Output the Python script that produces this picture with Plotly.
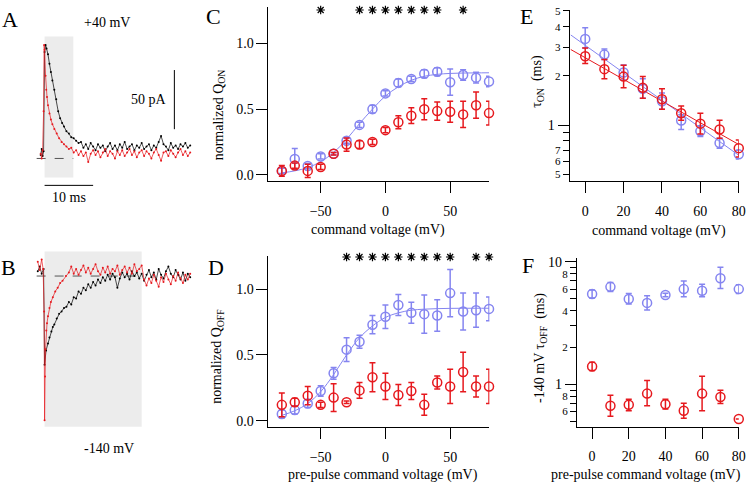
import plotly.graph_objects as go

W, H = 753, 485
FONT = "Liberation Serif"
BLUE = "#8585f0"
RED = "#e6191e"

# ---------------- data ----------------
# Panel A: +40 mV traces (time ms, current pA)
A_black_t = [-0.8, -0.6, -0.4, -0.2, 0.0, 0.2, 0.4, 0.7, 1.0, 1.3, 1.6, 2.0, 2.4, 2.8, 3.2, 3.6, 4.0, 4.5, 5.0, 5.5, 6.0, 6.5, 7.0,
             7.5, 8.0, 8.5, 9.0, 9.5, 10.0, 10.5, 11.0, 11.5, 12.0, 12.5, 13.0, 13.5, 14.0, 14.5, 15.0, 15.5, 16.0, 16.5, 17.0,
             17.5, 18.0, 18.5, 19.0, 19.5, 20.0, 20.5, 21.0, 21.5, 22.0, 22.5, 23.0, 23.5, 24.0, 24.5, 25.0, 25.5, 26.0, 26.5,
             27.0, 27.5, 28.0, 28.5, 29.0, 29.5, 30.0]
A_black_i = [3, 8, 2, 6, 90, 96, 93, 88, 80, 73, 66, 58, 50, 40, 34, 30, 27, 23, 21, 18, 17, 15, 13,
             14, 9, 12, 8, 13, 10, 7, 12, 9, 11, 6, 10, 13, 8, 11, 7, 12, 9, 14, 8,
             10, 12, 7, 11, 9, 13, 8, 10, 12, 7, 11, 9, 14, 19, 12, 10, 7, 13, 9,
             11, 8, 12, 10, 13, 9, 11]
A_red_t = [-0.8, -0.6, -0.4, -0.2, -0.1, 0.0, 0.2, 0.35, 0.5, 0.7, 1.0, 1.3, 1.6, 2.0, 2.5, 3.0, 3.5, 4.0, 4.5, 5.0, 5.5, 6.0, 6.5,
           7.0, 7.5, 8.0, 8.5, 9.0, 9.5, 10.0, 10.5, 11.0, 11.5, 12.0, 12.5, 13.0, 13.5, 14.0, 14.5, 15.0, 15.5, 16.0, 16.5,
           17.0, 17.5, 18.0, 18.5, 19.0, 19.5, 20.0, 20.5, 21.0, 21.5, 22.0, 22.5, 23.0, 23.5, 24.0, 24.5, 25.0, 25.5, 26.0,
           26.5, 27.0, 27.5, 28.0, 28.5, 29.0, 29.5, 30.0]
A_red_i = [4, 0, 7, 40, 96, 92, 70, 58, 52, 45, 38, 33, 29, 25, 21, 17, 14, 12, 10, 8, 9, 5, 7,
           3, 6, 2, 5, -3, 4, 7, 3, 6, 1, 5, 8, 2, 6, 4, 0, 6, 3, 7, 2,
           5, 8, 3, 6, 1, 5, 7, 2, 6, 4, 0, 5, 8, 3, -2, 5, 6, 2, 7,
           4, 1, 5, 8, 3, 6, 2, 5]

# Panel B: -140 mV traces
B_black_t = [-1.4, -1.0, -0.6, -0.2, 0.0, 0.3, 0.7, 1.0, 1.4, 1.7, 2.0, 2.5, 3.0, 3.5, 4.0, 4.5, 5.0, 5.5, 6.0, 6.5, 7.0,
             7.5, 8.0, 8.5, 9.0, 9.5, 10.0, 10.5, 11.0, 11.5, 12.0, 12.5, 13.0, 13.5, 14.0, 14.5, 15.0, 15.5, 16.0, 16.5,
             17.0, 17.5, 18.0, 18.5, 19.0, 19.5, 20.0, 20.5, 21.0, 21.5, 22.0, 22.5, 23.0, 23.5, 24.0, 24.5, 25.0, 25.5,
             26.0, 26.5, 27.0, 27.5, 28.0, 28.5, 29.0, 29.5, 30.0]
B_black_i = [4, 8, 2, 6, -75, -63, -57, -52, -47, -43, -41, -36, -32, -30, -27, -26, -22, -24, -18, -19, -13,
             -15, -10, -12, -7, -10, -5, -8, -3, -6, -1, -4, 1, -3, 2, -1, -10, -2, 3, -1,
             2, -3, 4, 0, 3, -2, 2, -4, 1, 5, -1, 3, -3, 6, 1, -2, 4, 8,
             2, -1, 5, 1, -3, 3, -4, 2, -1]
B_red_t = [-1.4, -1.0, -0.6, -0.3, -0.1, 0.0, 0.1, 0.2, 0.35, 0.5, 0.7, 1.0, 1.3, 1.7, 2.2, 2.7, 3.2, 3.7, 4.4, 5.0,
           5.5, 6.0, 6.5, 7.0, 7.5, 8.0, 8.5, 9.0, 9.5, 10.0, 10.5, 11.0, 11.5, 12.0, 12.5, 13.0, 13.5, 14.0, 14.5,
           15.0, 15.5, 16.0, 16.5, 17.0, 17.5, 18.0, 18.5, 19.0, 19.5, 20.0, 20.5, 21.0, 21.5, 22.0, 22.5, 23.0, 23.5,
           24.0, 24.5, 25.0, 25.5, 26.0, 26.5, 27.0, 27.5, 28.0, 28.5, 29.0, 29.5, 30.0]
B_red_i = [12, 5, 14, 6, -30, -122, -85, -62, -46, -40, -34, -27, -22, -18, -13, -10, -6, -4, 0, 3,
           8, 2, 6, 1, 5, 9, 3, 7, 2, 6, 10, 4, 1, 7, 3, 8, 2, 6, 4,
           9, 1, 5, 8, 3, 7, 2, 10, 4, 6, 9, -3, -8, -2, -6, 1, -4, -9,
           -1, -5, 2, -3, -7, 0, -4, 3, -2, -6, 1, -3, 2]

# Panel C / D: voltage steps
V = [-80, -70, -60, -50, -40, -30, -20, -10, 0, 10, 20, 30, 40, 50, 60, 70, 80]
C_blue = [0.03, 0.12, 0.067, 0.14, 0.16, 0.26, 0.38, 0.50, 0.62, 0.70, 0.73, 0.77, 0.785, 0.705, 0.76, 0.74, 0.71]
C_blue_err = [0.02, 0.08, 0.02, 0.02, 0.01, 0.02, 0.02, 0.03, 0.02, 0.03, 0.02, 0.03, 0.03, 0.10, 0.04, 0.04, 0.04]
C_red = [0.03, 0.07, 0.03, 0.06, 0.16, 0.23, 0.23, 0.25, 0.34, 0.40, 0.45, 0.50, 0.485, 0.48, 0.46, 0.53, 0.47]
C_red_err = [0.04, 0.02, 0.05, 0.02, 0.01, 0.05, 0.03, 0.02, 0.02, 0.05, 0.06, 0.08, 0.07, 0.08, 0.10, 0.10, 0.09]
C_fit = [0.015, 0.03, 0.055, 0.10, 0.17, 0.27, 0.39, 0.50, 0.60, 0.67, 0.72, 0.75, 0.765, 0.772, 0.775, 0.776, 0.777]
C_stars = [-50, -20, -10, 0, 10, 20, 30, 40, 60]

D_blue = [0.05, 0.08, 0.13, 0.225, 0.36, 0.54, 0.60, 0.73, 0.79, 0.88, 0.82, 0.81, 0.80, 0.97, 0.83, 0.84, 0.85]
D_blue_err = [0.03, 0.03, 0.03, 0.04, 0.045, 0.09, 0.05, 0.07, 0.09, 0.08, 0.08, 0.145, 0.12, 0.18, 0.14, 0.13, 0.09]
D_red = [0.12, 0.14, 0.19, 0.12, 0.175, 0.14, 0.23, 0.33, 0.26, 0.195, 0.225, 0.12, 0.29, 0.26, 0.37, 0.26, 0.26]
D_red_err = [0.09, 0.03, 0.07, 0.02, 0.105, 0.01, 0.06, 0.11, 0.10, 0.08, 0.065, 0.08, 0.05, 0.13, 0.15, 0.08, 0.13]
D_fit = [0.04, 0.075, 0.13, 0.22, 0.35, 0.50, 0.63, 0.72, 0.785, 0.82, 0.84, 0.848, 0.852, 0.854, 0.855, 0.855, 0.855]
D_stars = [-30, -20, -10, 0, 10, 20, 30, 40, 50, 70, 80]

# Panel E / F
V2 = [0, 10, 20, 30, 40, 50, 60, 70, 80]
E_blue = [3.37, 2.70, 2.10, 1.67, 1.40, 1.065, 0.916, 0.776, 0.662]
E_blue_hi = [3.94, 2.92, 2.33, 1.92, 1.57, 1.156, 0.99, 0.83, 0.70]
E_blue_lo = [2.96, 2.52, 1.89, 1.46, 1.25, 0.94, 0.85, 0.72, 0.62]
E_red = [2.64, 2.20, 1.98, 1.69, 1.44, 1.18, 1.02, 0.94, 0.722]
E_red_hi = [2.96, 2.52, 2.32, 1.98, 1.67, 1.31, 1.18, 1.07, 0.81]
E_red_lo = [2.38, 1.92, 1.69, 1.46, 1.25, 1.07, 0.88, 0.83, 0.638]
E_fit_x = [-7.5, 80]
E_fit_blue = [3.56, 0.653]
E_fit_red = [2.9, 0.76]

F_blue = [5.47, 6.26, 4.98, 4.63, 5.37, 6.0, 5.81, 7.35, 6.0]
F_blue_hi = [5.89, 6.78, 5.53, 5.3, 5.55, 7.0, 6.58, 9.06, 6.5]
F_blue_lo = [5.08, 5.74, 4.54, 4.06, 5.2, 5.2, 5.2, 6.07, 5.53]
F_red = [1.40, 0.669, 0.682, 0.842, 0.69, 0.61, 0.842, 0.79, 0.523]
F_red_hi = [1.52, 0.816, 0.757, 1.077, 0.757, 0.703, 1.167, 0.895, 0.523]
F_red_lo = [1.30, 0.55, 0.61, 0.669, 0.63, 0.53, 0.61, 0.70, 0.523]
F_stars = [0, 10, 20, 30, 40, 50, 60, 70, 80]

# ---------------- layout helpers ----------------
def dx(p0, p1):
    return [p0 / W, p1 / W]

def dy(top, bottom):
    return [1 - bottom / H, 1 - top / H]

def px(x):
    return x / W

def py(y):
    return 1 - y / H

MS = 4.9   # px per ms in A/B
PA = 1.2   # px per pA in A/B
A_T0, A_BASE = 45, 155.7
B_BASE = 275

fig = go.Figure()

def circ(x, y, color, xa, ya, err=None, hi=None, lo=None):
    kw = dict(x=x, y=y, mode="markers", xaxis=xa, yaxis=ya, showlegend=False, cliponaxis=False,
              marker=dict(symbol="circle-open", size=9, color=color, line=dict(width=1.5, color=color)))
    if err is not None:
        kw["error_y"] = dict(type="data", array=err, color=color, thickness=1.5, width=3)
    if hi is not None:
        kw["error_y"] = dict(type="data", symmetric=False,
                             array=[h - v for h, v in zip(hi, y)],
                             arrayminus=[v - l for v, l in zip(y, lo)],
                             color=color, thickness=1.5, width=3)
    fig.add_trace(go.Scatter(**kw))

def line(x, y, color, xa, ya, shape="linear", width=1):
    fig.add_trace(go.Scatter(x=x, y=y, mode="lines", xaxis=xa, yaxis=ya, showlegend=False,
                             line=dict(color=color, width=width, shape=shape), cliponaxis=False))

def stars(x, yval, xa, ya):
    fig.add_trace(go.Scatter(x=x, y=[yval] * len(x), mode="markers", xaxis=xa, yaxis=ya, showlegend=False,
                             cliponaxis=False,
                             marker=dict(symbol="asterisk-open", size=7, color="black",
                                         line=dict(width=1.2, color="black"))))

def trace(t, i, color, xa, ya):
    fig.add_trace(go.Scatter(x=t, y=i, mode="lines+markers", xaxis=xa, yaxis=ya, showlegend=False,
                             line=dict(color=color, width=0.7), marker=dict(size=2, color=color),
                             cliponaxis=False))

# A / B traces
trace(A_black_t, A_black_i, "black", "x", "y")
trace(A_red_t, A_red_i, RED, "x", "y")
trace(B_black_t, B_black_i, "black", "x2", "y2")
trace(B_red_t, B_red_i, RED, "x2", "y2")

# C
line(V, C_fit, BLUE, "x3", "y3", shape="spline")
circ(V, C_blue, BLUE, "x3", "y3", err=C_blue_err)
circ(V, C_red, RED, "x3", "y3", err=C_red_err)
stars(C_stars, 1.255, "x3", "y3")
# D
line(V, D_fit, BLUE, "x4", "y4", shape="spline")
circ(V, D_blue, BLUE, "x4", "y4", err=D_blue_err)
circ(V, D_red, RED, "x4", "y4", err=D_red_err)
stars(D_stars, 1.245, "x4", "y4")
# E
line(E_fit_x, E_fit_blue, BLUE, "x5", "y5")
line(E_fit_x, E_fit_red, RED, "x5", "y5")
circ(V2, E_blue, BLUE, "x5", "y5", hi=E_blue_hi, lo=E_blue_lo)
circ(V2, E_red, RED, "x5", "y5", hi=E_red_hi, lo=E_red_lo)
# F
circ(V2, F_blue, BLUE, "x6", "y6", hi=F_blue_hi, lo=F_blue_lo)
circ(V2, F_red, RED, "x6", "y6", hi=F_red_hi, lo=F_red_lo)
stars(F_stars, 11.1, "x6", "y6")

tickfont = dict(family=FONT, size=14, color="black")
common = dict(showline=True, linecolor="black", linewidth=1, ticks="outside", ticklen=11, tickwidth=1,
              tickcolor="black", showgrid=False, zeroline=False, tickfont=tickfont)

hidden = dict(visible=False, showgrid=False, zeroline=False)

layout = dict(
    width=W, height=H, margin=dict(l=0, r=0, t=0, b=0), hovermode=False,
    paper_bgcolor="white", plot_bgcolor="rgba(0,0,0,0)", showlegend=False,
    xaxis=dict(domain=dx(30, 200), range=[(30 - A_T0) / MS, (200 - A_T0) / MS], anchor="y", **hidden),
    yaxis=dict(domain=dy(15, 200), range=[(A_BASE - 200) / PA, (A_BASE - 15) / PA], anchor="x", **hidden),
    xaxis2=dict(domain=dx(30, 200), range=[(30 - A_T0) / MS, (200 - A_T0) / MS], anchor="y2", **hidden),
    yaxis2=dict(domain=dy(245, 480), range=[(B_BASE - 480) / PA, (B_BASE - 245) / PA], anchor="x2", **hidden),
    xaxis3=dict(domain=dx(271, 494), range=[-90.3, 80.3], anchor="y3", tickvals=[-50, 0, 50],
                ticklabelstandoff=6, **common),
    yaxis3=dict(domain=dy(2, 178.3), range=[-0.045, 1.278], anchor="x3", tickvals=[0, 0.5, 1.0],
                tickformat=".1f", **common),
    xaxis4=dict(domain=dx(271, 494), range=[-90.3, 80.3], anchor="y4", tickvals=[-50, 0, 50],
                ticklabelstandoff=6, **common),
    yaxis4=dict(domain=dy(255, 428.3), range=[-0.0495, 1.25], anchor="x4", tickvals=[0, 0.5, 1.0],
                tickformat=".1f", **common),
    xaxis5=dict(domain=dx(575, 745.7), range=[-8.1, 80], anchor="y5", tickvals=[0, 20, 40, 60, 80],
                ticklabelstandoff=6, **common),
    xaxis6=dict(domain=dx(582.3, 745.7), range=[-8.3, 80], anchor="y6", tickvals=[0, 20, 40, 60, 80],
                ticklabelstandoff=6, **common),
)

minor_common = dict(common)
minor_common.update(ticklen=6, tickfont=dict(family=FONT, size=11, color="black"))
layout["yaxis5"] = dict(domain=dy(5, 178.3), type="log", range=[-0.341, 0.705], anchor="x5",
                        tickvals=[0.5, 0.6, 0.7, 0.8, 0.9, 2, 3, 4, 5],
                        ticktext=["5", "6", "7", "", "", "2", "3", "4", "5"], **minor_common)
layout["yaxis6"] = dict(domain=dy(256.7, 427.7), type="log", range=[-0.3435, 1.032], anchor="x6",
                        tickvals=[0.5, 0.6, 0.7, 0.8, 0.9, 2, 3, 4, 5, 6, 7, 8, 9],
                        ticktext=["", "6", "", "8", "", "2", "", "4", "", "6", "", "8", ""], **minor_common)
major_common = dict(common)
major_common.update(showline=False)
layout["yaxis7"] = dict(domain=dy(5, 178.3), type="log", range=[-0.341, 0.705], anchor="x5",
                        overlaying="y5", tickvals=[1], ticktext=["1"], **major_common)
layout["yaxis8"] = dict(domain=dy(256.7, 427.7), type="log", range=[-0.3435, 1.032], anchor="x6",
                        overlaying="y6", tickvals=[1, 10], ticktext=["1", "10"], **major_common)
fig.update_layout(**layout)
# empty traces so the overlay axes render
fig.add_trace(go.Scatter(x=[None], y=[None], xaxis="x5", yaxis="y7", showlegend=False))
fig.add_trace(go.Scatter(x=[None], y=[None], xaxis="x6", yaxis="y8", showlegend=False))

# shapes for A / B
shapes = [
    dict(type="rect", xref="x", yref="y", x0=0, x1=(74 - A_T0) / MS, y0=(A_BASE - 175) / PA,
         y1=(A_BASE - 32) / PA, fillcolor="#ececec", line=dict(width=0), layer="below"),
    dict(type="line", xref="x", yref="y", x0=(37 - A_T0) / MS, x1=(74 - A_T0) / MS, y0=0, y1=0,
         line=dict(color="#555", width=1, dash="dash"), layer="below"),
    dict(type="rect", xref="x2", yref="y2", x0=0, x1=(143 - A_T0) / MS, y0=(B_BASE - 428) / PA,
         y1=(B_BASE - 250) / PA, fillcolor="#ececec", line=dict(width=0), layer="below"),
    dict(type="line", xref="x2", yref="y2", x0=(37 - A_T0) / MS, x1=(143 - A_T0) / MS, y0=0, y1=0,
         line=dict(color="#555", width=1, dash="dash"), layer="below"),
    # scale bars
    dict(type="line", xref="x", yref="y", x0=(176 - A_T0) / MS, x1=(176 - A_T0) / MS,
         y0=(A_BASE - 126) / PA, y1=(A_BASE - 126) / PA + 50, line=dict(color="black", width=1)),
    dict(type="line", xref="x", yref="y", x0=0, x1=10, y0=(A_BASE - 183) / PA, y1=(A_BASE - 183) / PA,
         line=dict(color="black", width=1)),
]
fig.update_layout(shapes=shapes)

ann = []
def text(x, y, s, size=14, angle=0, xanchor="center"):
    ann.append(dict(x=px(x), y=py(y), xref="paper", yref="paper", text=s, showarrow=False,
                    textangle=angle, xanchor=xanchor, yanchor="middle",
                    font=dict(family=FONT, size=size, color="black")))

for letter, x, y in [("A", 10, 15), ("B", 9, 266), ("C", 216, 12), ("D", 218, 266), ("E", 531, 12), ("F", 533, 264)]:
    text(x, y, letter, size=22)
text(108, 18, "+40 mV")
text(171, 96, "50 pA", xanchor="right")
text(70, 195, "10 ms")
text(110, 450, "-140 mV")
text(381.7, 228, "command voltage (mV)")
text(386.5, 477, "pre-pulse command voltage (mV)")
text(665, 229, "command voltage (mV)")
text(651.7, 477, "pre-pulse command voltage (mV)")
text(221, 111, "normalized Q<sub>ON</sub>", angle=-90)
text(220, 356, "normalized Q<sub>OFF</sub>", angle=-90)
text(543, 77, "τ<sub>ON</sub>  (ms)", angle=-90)
text(546, 348, "-140 mV τ<sub>OFF</sub>  (ms)", angle=-90)
fig.update_layout(annotations=ann)

fig.write_html("out.html", config={"displayModeBar": False},
               post_script="document.body.style.margin='0';document.body.style.padding='0';"
                           "document.documentElement.style.overflow='hidden';")
